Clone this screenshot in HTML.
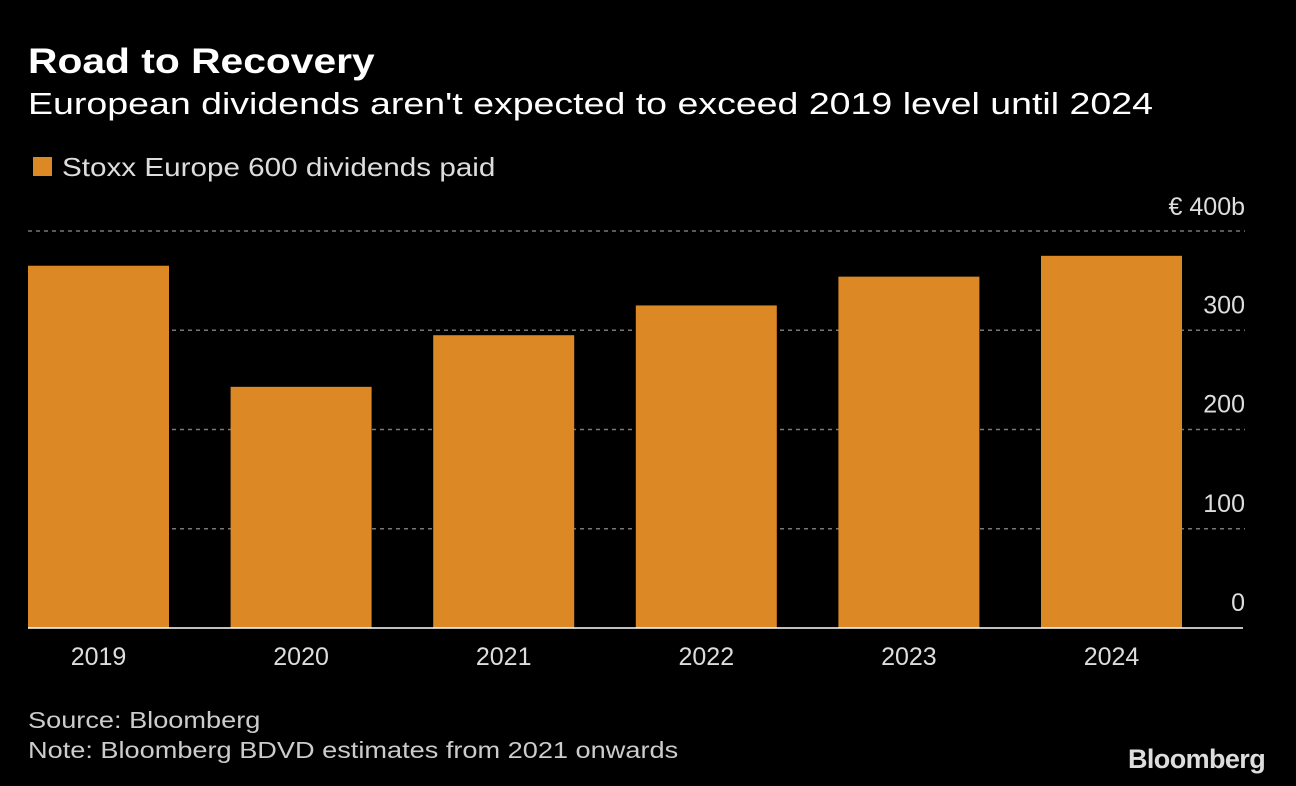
<!DOCTYPE html>
<html><head><meta charset="utf-8"><style>
body{margin:0;background:#000;width:1296px;height:786px;overflow:hidden;font-family:"Liberation Sans",sans-serif;color:#fff;position:relative}
.t{position:absolute;white-space:nowrap;transform-origin:left top}
</style></head><body>
<div class="t" style="left:28px;top:42px;font-size:35px;font-weight:bold;transform:scaleX(1.165)">Road to Recovery</div>
<div class="t" style="left:28px;top:86px;font-size:31px;transform:scaleX(1.21)">European dividends aren't expected to exceed 2019 level until 2024</div>
<div class="t" style="left:33px;top:157px;width:19px;height:19px;background:#DB8825"></div>
<div class="t" style="left:62px;top:152px;font-size:26px;color:#ddd;transform:scaleX(1.14)">Stoxx Europe 600 dividends paid</div>
<svg id="chart" width="1296" height="786" style="position:absolute;left:0;top:0"></svg>
<div class="t" style="left:28px;top:705px;font-size:23px;color:#ccc;line-height:30px;transform:scaleX(1.18)">Source: Bloomberg<br>Note: Bloomberg BDVD estimates from 2021 onwards</div>
<div class="t" style="left:1128px;top:744px;font-size:27px;font-weight:bold;color:#ddd;letter-spacing:-0.6px">Bloomberg</div>
<script>
const categories=["2019","2020","2021","2022","2023","2024"];
const values=[365,243,295,325,354,375];
const ticks=[0,100,200,300,400];
const tickLabels=["0","100","200","300","€ 400b"];
const svg=document.getElementById('chart');
const NS="http://www.w3.org/2000/svg";
const y0=628,pxPer=(628-231)/400;
const y=v=>y0-v*pxPer;
const x=i=>28+i*202.6;
const bw=141;
function mk(t,a){const e=document.createElementNS(NS,t);for(const k in a)e.setAttribute(k,a[k]);svg.appendChild(e);return e;}
ticks.forEach((t,i)=>{
 if(t>0){const l=mk('line',{x1:28,x2:1245,y1:y(t),y2:y(t),stroke:'#777','stroke-width':1.5,'stroke-dasharray':'4,4'});
 
 }
 const tx=mk('text',{x:1245,y:(t===400?y(t)-16:y(t)-17),fill:'#ddd','font-size':25,'text-anchor':'end','font-family':'Liberation Sans, sans-serif'});
 tx.textContent=tickLabels[i];
 
 
});
values.forEach((v,i)=>{
 const r=mk('rect',{x:x(i),y:y(v),width:bw,height:y0-y(v),fill:'#DB8825'});
 
 
 const tx=mk('text',{x:x(i)+bw/2,y:665,fill:'#ddd','font-size':25,'text-anchor':'middle','font-family':'Liberation Sans, sans-serif'});
 tx.textContent=categories[i];
 
 
});
const b=mk('line',{x1:28,x2:1243,y1:y0,y2:y0,stroke:'#fff','stroke-width':1.5});


</script>
</body></html>
